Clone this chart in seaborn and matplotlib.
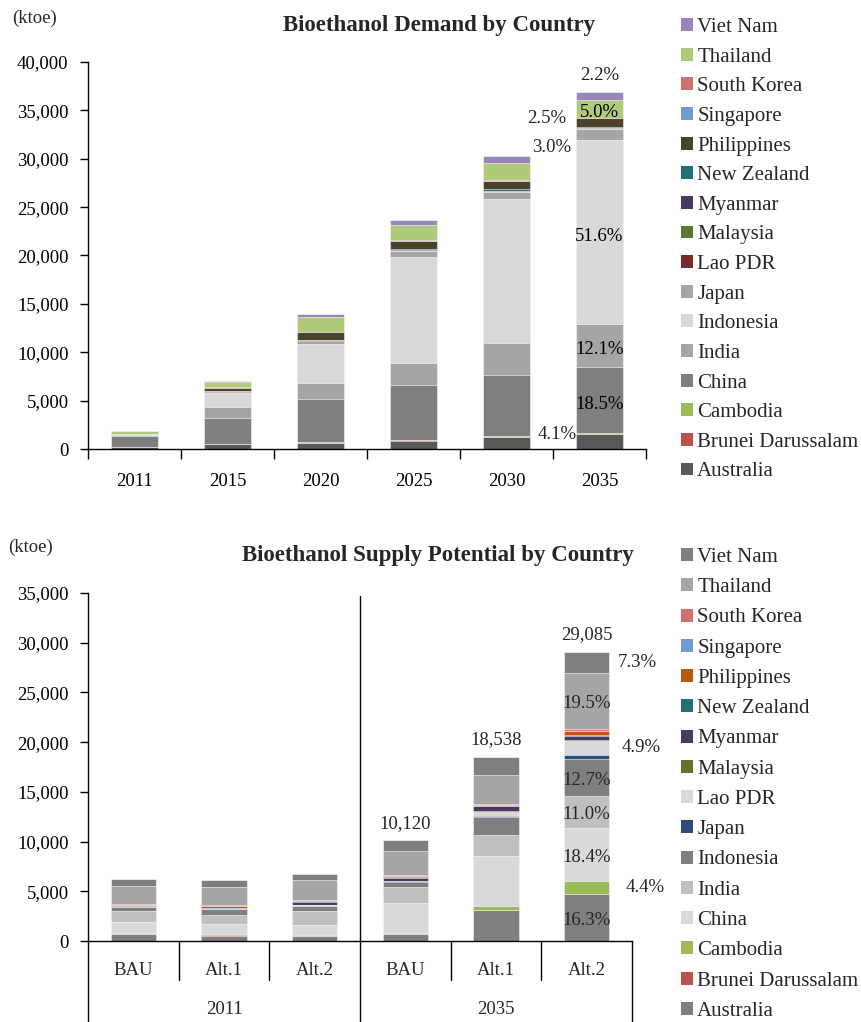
import numpy as np
import pandas as pd
import matplotlib
matplotlib.use("Agg")
import matplotlib.pyplot as plt
import matplotlib.transforms as mtransforms
from matplotlib.patches import Patch
import seaborn as sns

# ---------------- data (ktoe) ----------------
countries = ["Australia", "Brunei Darussalam", "Cambodia", "China", "India",
             "Indonesia", "Japan", "Lao PDR", "Malaysia", "Myanmar",
             "New Zealand", "Philippines", "Singapore", "South Korea",
             "Thailand", "Viet Nam"]

demand_years = ["2011", "2015", "2020", "2025", "2030", "2035"]
demand_australia = [240, 480, 650, 860, 1200, 1513]
demand_brunei = [0, 5, 20, 30, 40, 40]
demand_cambodia = [10, 20, 30, 50, 60, 60]
demand_china = [1100, 2750, 4500, 5650, 6350, 6827]
demand_india = [100, 1060, 1650, 2300, 3350, 4465]
demand_indonesia = [0, 1450, 4000, 11000, 14800, 19040]
demand_japan = [50, 170, 350, 550, 750, 1107]
demand_lao = [0, 10, 20, 40, 60, 50]
demand_malaysia = [0, 10, 20, 30, 40, 40]
demand_myanmar = [0, 10, 30, 50, 60, 50]
demand_nz = [0, 20, 40, 80, 150, 70]
demand_philippines = [100, 350, 750, 850, 850, 923]
demand_singapore = [0, 10, 10, 20, 20, 20]
demand_korea = [0, 20, 60, 60, 60, 38]
demand_thailand = [250, 550, 1500, 1600, 1800, 1845]
demand_vietnam = [30, 100, 300, 500, 650, 812]

supply_scenarios = ["BAU", "Alt.1", "Alt.2", "BAU", "Alt.1", "Alt.2"]
supply_periods = ["2011", "2035"]
supply_australia = [700, 550, 500, 700, 3100, 4741]
supply_brunei = [0, 20, 0, 0, 0, 0]
supply_cambodia = [100, 130, 150, 100, 430, 1280]
supply_china = [1100, 1000, 1000, 3000, 5000, 5352]
supply_india = [1100, 900, 1350, 1600, 2100, 3199]
supply_indonesia = [400, 600, 500, 500, 1800, 3694]
supply_japan = [30, 20, 60, 100, 120, 450]
supply_lao = [0, 0, 80, 0, 450, 1425]
supply_malaysia = [20, 20, 20, 20, 30, 49]
supply_myanmar = [100, 30, 300, 300, 500, 450]
supply_nz = [20, 20, 20, 80, 0, 100]
supply_philippines = [100, 200, 80, 150, 100, 350]
supply_singapore = [0, 0, 0, 0, 30, 50]
supply_korea = [30, 100, 50, 50, 100, 150]
supply_thailand = [1800, 1800, 2000, 2450, 2978, 5672]
supply_vietnam = [740, 740, 600, 1070, 1800, 2123]

demand_colors = ["#595959", "#C0504D", "#9BBB59", "#7F7F7F", "#A5A5A5",
                 "#D9D9D9", "#A5A5A5", "#7B2A2A", "#5E7530", "#4A3A63",
                 "#246F7C", "#4A422A", "#6F9BCF", "#D07070", "#AFCB7A",
                 "#9B85B8"]
supply_colors = ["#7F7F7F", "#C0504D", "#9BBB59", "#D9D9D9", "#BFBFBF",
                 "#7F7F7F", "#2C4C7A", "#D9D9D9", "#5E7530", "#4A3A63",
                 "#246F7C", "#B85A0C", "#6F9BCF", "#D07070", "#A5A5A5",
                 "#7F7F7F"]

demand = pd.DataFrame(
    np.array([demand_australia, demand_brunei, demand_cambodia, demand_china,
              demand_india, demand_indonesia, demand_japan, demand_lao,
              demand_malaysia, demand_myanmar, demand_nz, demand_philippines,
              demand_singapore, demand_korea, demand_thailand,
              demand_vietnam], dtype=float).T,
    index=demand_years, columns=countries)

supply_keys = [f"{p} {s}" for p, s in zip(
    [supply_periods[0]] * 3 + [supply_periods[1]] * 3, supply_scenarios)]
supply = pd.DataFrame(
    np.array([supply_australia, supply_brunei, supply_cambodia, supply_china,
              supply_india, supply_indonesia, supply_japan, supply_lao,
              supply_malaysia, supply_myanmar, supply_nz, supply_philippines,
              supply_singapore, supply_korea, supply_thailand,
              supply_vietnam], dtype=float).T,
    index=supply_keys, columns=countries)

# ---------------- style ----------------
sns.set_theme(style="ticks")
plt.rcParams["font.family"] = ["Liberation Serif", "DejaVu Serif"]
plt.rcParams["axes.edgecolor"] = "black"
plt.rcParams["xtick.color"] = "black"
plt.rcParams["ytick.color"] = "black"
FS = 13.5
LEG_FS = 15
TITLE_FS = 16.5

W, H = 861, 1022
fig = plt.figure(figsize=(W / 100, H / 100), dpi=100)
fig.patch.set_facecolor("white")


def px_axes(left, top, right, bottom):
    return fig.add_axes([left / W, 1 - bottom / H, (right - left) / W,
                         (bottom - top) / H])


def stacked(ax, df, colors):
    cats = list(df.index)
    cum = df.cumsum(axis=1)
    # draw cumulative totals from the top layer down so each lower layer
    # covers the one above it
    for i in range(len(df.columns) - 1, -1, -1):
        sns.barplot(x=cats, y=cum.iloc[:, i].values, order=cats,
                    color=colors[i], saturation=1, width=0.5,
                    edgecolor="white", linewidth=0.4, ax=ax)
    return cum


def legend(handles, top_px, spacing):
    fig.legend(handles=handles, loc="upper left",
               bbox_to_anchor=(681 / W, 1 - top_px / H),
               frameon=False, fontsize=LEG_FS, handlelength=0.58,
               handleheight=0.58, handletextpad=0.2, labelspacing=spacing,
               borderpad=0, borderaxespad=0)


thousands = matplotlib.ticker.FuncFormatter(lambda v, p: f"{int(v):,}")


def lab(v):
    return f"{v:.1f}%"


# ================= Demand =================
ax1 = px_axes(88, 62, 646, 449)
cum1 = stacked(ax1, demand, demand_colors)
ax1.set_ylim(0, 40000)
ax1.set_xlim(-0.5, len(demand_years) - 0.5)
ax1.set_yticks(np.arange(0, 40001, 5000))
ax1.yaxis.set_major_formatter(thousands)
ax1.set_xticks(range(len(demand_years)))
ax1.set_xticklabels(demand_years)
ax1.set_xticks(np.arange(-0.5, len(demand_years), 1.0), minor=True)
ax1.tick_params(axis="x", which="major", length=0, labelsize=FS, pad=17)
ax1.tick_params(axis="x", which="minor", length=7, width=1, direction="out")
ax1.tick_params(axis="y", length=6, width=1, direction="out", labelsize=FS,
                pad=8)
ax1.set_xlabel("")
ax1.set_ylabel("")
sns.despine(ax=ax1)
for s in ("left", "bottom"):
    ax1.spines[s].set_linewidth(1.0)

tot1 = demand.sum(axis=1)
j = len(demand_years) - 1
share = demand.iloc[j] / tot1.iloc[j] * 100
base = cum1.iloc[j] - demand.iloc[j]
mid = base + demand.iloc[j] / 2

for c in ["China", "India", "Indonesia", "Thailand"]:
    ax1.annotate(lab(share[c]), xy=(j, mid[c]), xytext=(0, -3),
                 textcoords="offset points", ha="center", va="center",
                 fontsize=FS, color="black")
ax1.annotate(lab(share["Australia"]), xy=(j - 0.25, cum1.iloc[j]["Australia"]),
             xytext=(0, 0), textcoords="offset points",
             ha="right", va="center", fontsize=FS)
ax1.annotate(lab(share["Japan"]), xy=(j - 0.25, mid["Japan"]),
             xytext=(-4, -9), textcoords="offset points",
             ha="right", va="center", fontsize=FS)
ax1.annotate(lab(share["Philippines"]), xy=(j - 0.25, mid["Philippines"]),
             xytext=(-7, 3), textcoords="offset points",
             ha="right", va="center", fontsize=FS)
ax1.annotate(lab(share["Viet Nam"]), xy=(j, tot1.iloc[j]),
             xytext=(0, 6), textcoords="offset points",
             ha="center", va="bottom", fontsize=FS)

fig.text(12 / W, 1 - 18 / H, "(ktoe)", fontsize=FS, ha="left", va="center")
fig.text(439 / W, 1 - 25 / H, "Bioethanol Demand by Country",
         fontsize=TITLE_FS, fontweight="bold", ha="center", va="center")

h1 = [Patch(facecolor=demand_colors[i], edgecolor="none", label=countries[i])
      for i in range(len(countries) - 1, -1, -1)]
legend(h1, 18, 0.51)

# ================= Supply =================
ax2 = px_axes(88, 593, 632, 941)
cum2 = stacked(ax2, supply, supply_colors)
n2 = len(supply_keys)
ax2.set_ylim(0, 35000)
ax2.set_xlim(-0.5, n2 - 0.5)
ax2.set_yticks(np.arange(0, 35001, 5000))
ax2.yaxis.set_major_formatter(thousands)
ax2.set_xticks([])
ax2.tick_params(axis="y", length=6, width=1, direction="out", labelsize=FS,
                pad=8)
ax2.set_xlabel("")
ax2.set_ylabel("")
sns.despine(ax=ax2)
for s in ("left", "bottom"):
    ax2.spines[s].set_linewidth(1.0)

trans = mtransforms.blended_transform_factory(ax2.transData, ax2.transAxes)
y_sep = (941 - 980) / 348
y_out = (941 - 1022) / 348
for b in [0.5, 1.5, 3.5, 4.5]:
    ax2.plot([b, b], [0, y_sep], color="black", lw=1, transform=trans,
             clip_on=False)
for b in [-0.5, 2.5, n2 - 0.5]:
    ax2.plot([b, b], [0, y_out], color="black", lw=1, transform=trans,
             clip_on=False)
ax2.plot([2.5, 2.5], [0, 0.99], color="black", lw=1, transform=trans,
         clip_on=False)
for i, s in enumerate(supply_scenarios):
    ax2.text(i, (941 - 970) / 348, s, transform=trans, ha="center",
             va="center", fontsize=FS)
for g, p in enumerate(supply_periods):
    ax2.text(3 * g + 1, (941 - 1009) / 348, p, transform=trans, ha="center",
             va="center", fontsize=FS)

tot2 = supply.sum(axis=1)
for i in range(3, n2):
    ax2.annotate(f"{int(round(tot2.iloc[i])):,}", xy=(i, tot2.iloc[i]),
                 xytext=(0, 6), textcoords="offset points", ha="center",
                 va="bottom", fontsize=FS)

k = n2 - 1
share2 = supply.iloc[k] / tot2.iloc[k] * 100
base2 = cum2.iloc[k] - supply.iloc[k]
mid2 = base2 + supply.iloc[k] / 2
for c in ["Australia", "China", "India", "Indonesia", "Thailand"]:
    ax2.annotate(lab(share2[c]), xy=(k, mid2[c]), xytext=(0, -2),
                 textcoords="offset points", ha="center", va="center",
                 fontsize=FS)
for c, dx in [("Cambodia", 12), ("Lao PDR", 9), ("Viet Nam", 6)]:
    ax2.annotate(lab(share2[c]), xy=(k + 0.25, mid2[c]), xytext=(dx, 0),
                 textcoords="offset points", ha="left", va="center",
                 fontsize=FS)

fig.text(8 / W, 1 - 547 / H, "(ktoe)", fontsize=FS, ha="left", va="center")
fig.text(438 / W, 1 - 556 / H, "Bioethanol Supply Potential by Country",
         fontsize=TITLE_FS, fontweight="bold", ha="center", va="center")

h2 = [Patch(facecolor=supply_colors[i], edgecolor="none", label=countries[i])
      for i in range(len(countries) - 1, -1, -1)]
legend(h2, 548, 0.54)

fig.savefig("out.png", dpi=100, facecolor="white")
